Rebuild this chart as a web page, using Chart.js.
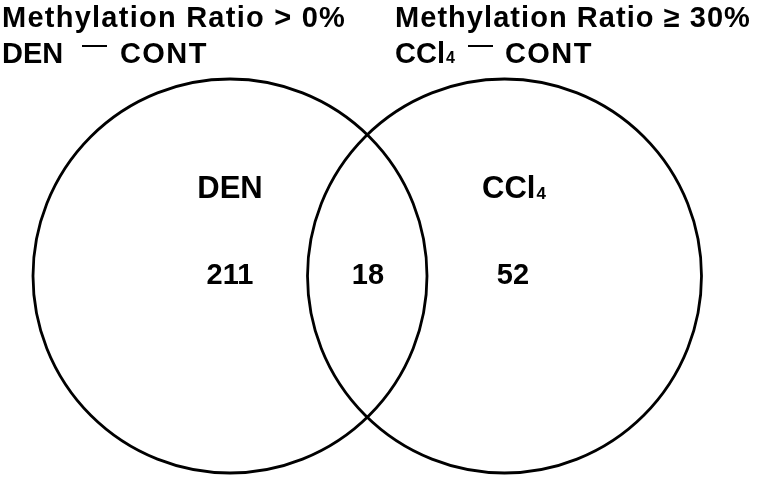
<!DOCTYPE html>
<html>
<head>
<meta charset="utf-8">
<script src="https://cdn.jsdelivr.net/npm/chart.js@4/dist/chart.umd.min.js"></script>
<style>
  html, body { margin: 0; padding: 0; background: #fff; }
  #wrap { width: 760px; height: 480px; }
</style>
</head>
<body>
<div id="wrap"><canvas id="c" width="760" height="480"></canvas></div>
<script>
// ---- data ----
const setNames = ['DEN', 'CCl4'];
const regionNames = ['DEN only', 'DEN ∩ CCl4', 'CCl4 only'];
const regionCounts = [211, 18, 52];
const titleLine1 = ['Methylation Ratio > 0%', 'Methylation Ratio ≥ 30%'];
const titleLine2 = [['DEN', 'CONT'], ['CCl4', 'CONT']];

// ---- layout (in scale units = reference pixels) ----
const setCenters = [{x: 230, y: 276}, {x: 504.5, y: 276}];
const setRadius = 197;
const setLabelX = [230, 514];
const regionX = [230, 368, 513];
const regionY = 276;
const setLabelY = 189;

const FONT = '"Liberation Sans", Arial, Helvetica, sans-serif';

function drawChem(ctx, name, x, y, size, align) {
  const m = name.match(/^(.*?)(\d+)$/);
  ctx.font = 'bold ' + size + 'px ' + FONT;
  ctx.textAlign = 'left';
  if (!m) {
    const w = ctx.measureText(name).width;
    const x0 = align === 'center' ? x - w / 2 : x;
    ctx.fillText(name, x0, y);
    return w;
  }
  const base = m[1], sub = m[2];
  const wb = ctx.measureText(base).width;
  const subFont = 'bold ' + Math.round(size * 0.55) + 'px ' + FONT;
  ctx.font = subFont;
  const ws = ctx.measureText(sub).width;
  const w = wb + ws + 1;
  const x0 = align === 'center' ? x - w / 2 : x;
  ctx.font = 'bold ' + size + 'px ' + FONT;
  ctx.fillText(base, x0, y);
  ctx.font = subFont;
  ctx.fillText(sub, x0 + wb + 1, ctx.textBaseline === 'middle' ? y + size * 0.18 : y);
  return w;
}

const vennText = {
  id: 'vennText',
  afterDatasetsDraw(chart) {
    const ctx = chart.ctx;
    const xs = chart.scales.x, ys = chart.scales.y;
    ctx.save();
    ctx.fillStyle = '#000';
    ctx.textBaseline = 'alphabetic';
    const titleX = [2, 395];
    const titleSize = 29;
    const spacing1 = ['1.25px', '1.05px'];
    titleLine1.forEach((t, i) => {
      ctx.letterSpacing = spacing1[i];
      ctx.font = 'bold ' + titleSize + 'px ' + FONT;
      ctx.textAlign = 'left';
      ctx.fillText(t, xs.getPixelForValue(titleX[i]), ys.getPixelForValue(27));
    });
    ctx.letterSpacing = '0px';
    const dashStart = [82, 468];
    const contStart = [120, 505];
    titleLine2.forEach((pair, i) => {
      const y = ys.getPixelForValue(63);
      ctx.letterSpacing = '0px';
      drawChem(ctx, pair[0], xs.getPixelForValue(titleX[i]), y, titleSize, 'left');
      ctx.fillRect(xs.getPixelForValue(dashStart[i]), y - 18, 25, 2);
      ctx.letterSpacing = '1.4px';
      ctx.font = 'bold ' + titleSize + 'px ' + FONT;
      ctx.textAlign = 'left';
      ctx.fillText(pair[1], xs.getPixelForValue(contStart[i]), y);
    });
    ctx.letterSpacing = '0px';
    ctx.textBaseline = 'middle';
    setNames.forEach((n, i) => {
      drawChem(ctx, n, xs.getPixelForValue(setLabelX[i]), ys.getPixelForValue(setLabelY), 31, 'center');
    });
    ctx.font = 'bold 29px ' + FONT;
    ctx.textAlign = 'center';
    regionCounts.forEach((v, i) => {
      ctx.fillText(String(v), xs.getPixelForValue(regionX[i]), ys.getPixelForValue(regionY));
    });
    ctx.restore();
  }
};

new Chart(document.getElementById('c'), {
  type: 'bubble',
  data: {
    datasets: [{
      label: 'sets',
      data: setCenters.map((c, i) => ({x: c.x, y: c.y, r: setRadius})),
      backgroundColor: 'rgba(0,0,0,0)',
      borderColor: '#000',
      borderWidth: 2.8,
      hoverBorderWidth: 2.8,
      clip: false
    }]
  },
  options: {
    responsive: false,
    animation: false,
    events: [],
    layout: { padding: 0, autoPadding: false },
    scales: {
      x: { type: 'linear', min: 0, max: 760, display: false },
      y: { type: 'linear', min: 0, max: 480, reverse: true, display: false }
    },
    plugins: {
      legend: { display: false },
      tooltip: { enabled: false },
      title: { display: false }
    }
  },
  plugins: [vennText]
});
</script>
</body>
</html>
